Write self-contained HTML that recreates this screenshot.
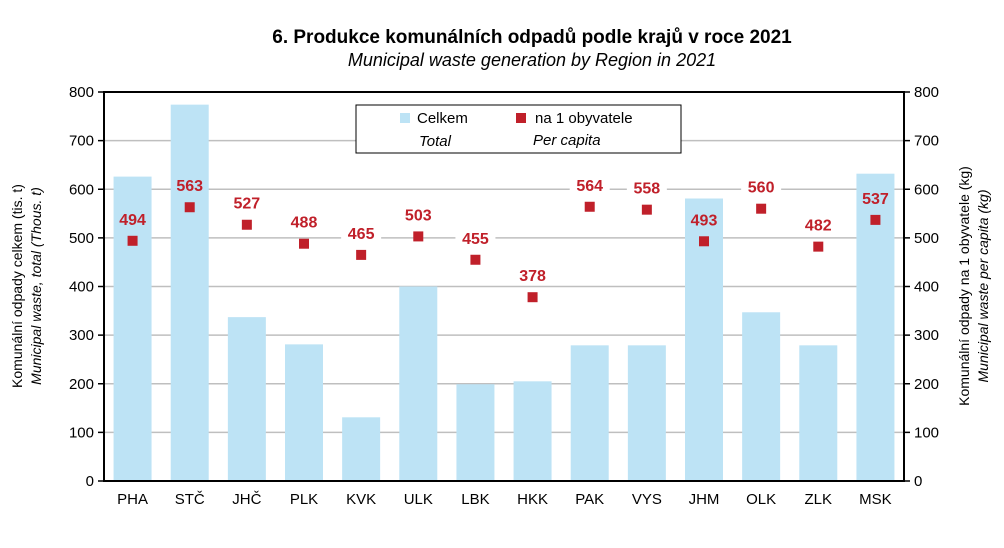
<!DOCTYPE html>
<html><head><meta charset="utf-8"><style>
html,body{margin:0;padding:0;background:#fff;}
svg{display:block;font-family:"Liberation Sans",Arial,sans-serif;}
</style></head><body>
<svg id="c" width="1004" height="548" viewBox="0 0 1004 548" xmlns="http://www.w3.org/2000/svg">
<rect width="1004" height="548" fill="#fff"/>
<text x="532" y="43" text-anchor="middle" font-size="19" font-weight="bold">6. Produkce komunálních odpadů podle krajů v roce 2021</text>
<text x="532" y="66" text-anchor="middle" font-size="18" font-style="italic">Municipal waste generation by Region in 2021</text>
<g id="g"></g>
<rect x="356" y="105" width="325" height="48" fill="#fff" stroke="#000" stroke-width="1"/>
<rect x="400" y="113" width="10" height="10" fill="#bde3f5"/>
<text x="417" y="123" font-size="15">Celkem</text>
<text x="419" y="146" font-size="15" font-style="italic">Total</text>
<rect x="516" y="113" width="10" height="10" fill="#c0202a"/>
<text x="535" y="123" font-size="15">na 1 obyvatele</text>
<text x="533" y="145" font-size="15" font-style="italic">Per capita</text>
<text transform="translate(22,286) rotate(-90)" text-anchor="middle" font-size="14">Komunální odpady celkem (tis. t)</text>
<text transform="translate(41,286) rotate(-90)" text-anchor="middle" font-size="14" font-style="italic">Municipal waste, total (Thous. t)</text>
<text transform="translate(969,286) rotate(-90)" text-anchor="middle" font-size="14">Komunální odpady na 1 obyvatele (kg)</text>
<text transform="translate(988,286) rotate(-90)" text-anchor="middle" font-size="14" font-style="italic">Municipal waste per capita (kg)</text>
</svg>
<script>
var g=document.getElementById('g'),s='';
var L=104,R=904,T=92,B=481,k=(B-T)/800,w=(R-L)/14;
var names=['PHA','STČ','JHČ','PLK','KVK','ULK','LBK','HKK','PAK','VYS','JHM','OLK','ZLK','MSK'];
var bars=[626,774,337,281,131,400,199,205,279,279,581,347,279,632];
var pts=[494,563,527,488,465,503,455,378,564,558,493,560,482,537];
for(var v=100;v<=700;v+=100){var y=B-v*k;s+='<line x1="'+L+'" x2="'+R+'" y1="'+y+'" y2="'+y+'" stroke="#bfbfbf" stroke-width="1.5"/>';}
for(var i=0;i<14;i++){var cx=L+w*(i+0.5);var y=B-bars[i]*k;s+='<rect x="'+(cx-19)+'" y="'+y+'" width="38" height="'+(B-y)+'" fill="#bde3f5"/>';
s+='<text x="'+cx+'" y="504" text-anchor="middle" font-size="15">'+names[i]+'</text>';}
for(var i=0;i<14;i++){var cx=L+w*(i+0.5);var y=B-pts[i]*k;
if(bars[i]<pts[i]+60) s+='<rect x="'+(cx-20)+'" y="'+(y-33)+'" width="40" height="20" fill="#fff"/>';
s+='<text x="'+cx+'" y="'+(y-16)+'" text-anchor="middle" font-size="16" font-weight="bold" fill="#c0202a">'+pts[i]+'</text>';
s+='<rect x="'+(cx-5)+'" y="'+(y-5)+'" width="10" height="10" fill="#c0202a"/>';}
s+='<rect x="'+L+'" y="'+T+'" width="'+(R-L)+'" height="'+(B-T)+'" fill="none" stroke="#000" stroke-width="2"/>';
for(var v=0;v<=800;v+=100){var y=B-v*k;
s+='<line x1="'+(L-6)+'" x2="'+L+'" y1="'+y+'" y2="'+y+'" stroke="#000" stroke-width="1.5"/>';
s+='<line x1="'+R+'" x2="'+(R+6)+'" y1="'+y+'" y2="'+y+'" stroke="#000" stroke-width="1.5"/>';
s+='<text x="'+(L-10)+'" y="'+(y+5)+'" text-anchor="end" font-size="15">'+v+'</text>';
s+='<text x="'+(R+10)+'" y="'+(y+5)+'" font-size="15">'+v+'</text>';}
g.innerHTML=s;
</script>
</body></html>
